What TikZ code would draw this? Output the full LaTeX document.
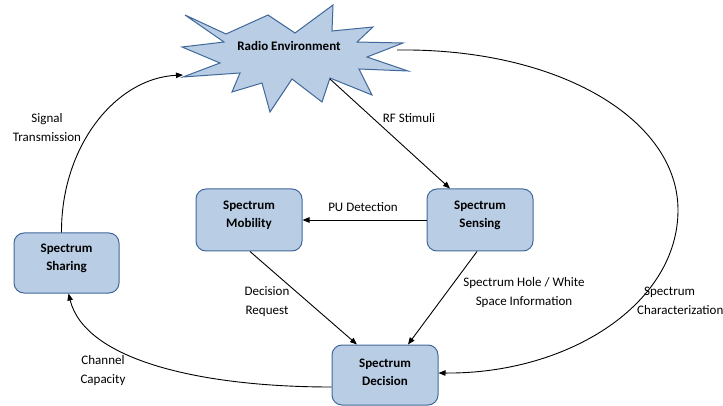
\documentclass[tikz,border=0pt]{standalone}
\usepackage{fontspec}
\setmainfont{Carlito}
\usetikzlibrary{arrows.meta}
\definecolor{boxfill}{HTML}{B9CDE5}
\definecolor{boxline}{HTML}{41689A}
\begin{document}
\begin{tikzpicture}[x=1pt,y=-1pt,
  box/.style={draw=boxline, fill=boxfill, line width=1pt, rounded corners=10pt, minimum width=106pt, minimum height=62pt, inner sep=0pt},
  boxtext/.style={font=\fontsize{13}{18}\selectfont\bfseries, align=center, inner sep=0pt},
  lbl/.style={font=\fontsize{13}{19}\selectfont, align=center, inner sep=0pt},
  conn/.style={draw=black, line width=0.9pt, -{Triangle[length=7pt,width=5.5pt]}},
]
\useasboundingbox (0,0) rectangle (723,406);

% Radio environment (explosion shape)
\draw[draw=boxline, fill=boxfill, line width=1pt, line join=miter]
  (185,15) -- (226,34) -- (268,15) -- (295,33) -- (333,5) -- (332,31) -- (373,27) -- (357,42)
  -- (403,43) -- (367,57) -- (408,71) -- (359,69) -- (372,95) -- (330,78) -- (322,102)
  -- (292,79) -- (270,112) -- (262,83) -- (232,92) -- (240,73) -- (183,77) -- (220,63)
  -- (182,47) -- (224,42) -- cycle;
\node[boxtext] (re) at (289,46) {Radio Environment};
\coordinate (reRF) at (330,79);
\coordinate (reRight) at (397,50);
\coordinate (reLeft) at (183,75);

% boxes
\node[box] (mob) at (249,220) {};
\node[boxtext] (mobT) at (249,215) {Spectrum\\Mobility};
\node[box] (sens) at (480,220) {};
\node[boxtext] (sensT) at (480,215) {Spectrum\\Sensing};
\node[box, minimum width=105pt, minimum height=60pt] (shar) at (66.5,263) {};
\node[boxtext] (sharT) at (66.5,258.5) {Spectrum\\Sharing};
\node[box, minimum height=60pt] (dec) at (385,375) {};
\node[boxtext] (decT) at (385,372.5) {Spectrum\\Decision};

% connectors
\draw[conn] (reRF) -- ([xshift=-30pt]sens.north);
\draw[conn] (sens.west) -- (mob.east);
\draw[conn] ([xshift=1pt]mob.south) -- ([xshift=-28pt]dec.north);
\draw[conn] ([xshift=-3pt]sens.south) -- ([xshift=23pt]dec.north);
\draw[conn] (reRight) .. controls (560,48) and (678,120) .. (678,210)
  .. controls (678,303) and (570,374) .. ([yshift=2pt]dec.east);
\draw[conn] ([yshift=-12pt]dec.west) .. controls (200,387) and (85,360) .. ([xshift=2pt]shar.south);
\draw[conn] ([xshift=-5pt]shar.north) .. controls (61,146) and (116,78) .. (reLeft);

% labels
\node[lbl] (lRF) at (409,118) {RF Stimuli};
\node[lbl] (lPU) at (363,207) {PU Detection};
\node[lbl] (lDR) at (267,302) {Decision\\Request};
\node[lbl] (lSH) at (524,293) {Spectrum Hole / White\\Space Information};
\node[lbl, align=left, anchor=west] (lSC) at (637,301) {\hspace*{7pt}Spectrum\\Characterization};
\node[lbl] (lCC) at (103,371) {Channel\\Capacity};
\node[lbl] (lST) at (47,128) {Signal\\Transmission};
\end{tikzpicture}
\end{document}
